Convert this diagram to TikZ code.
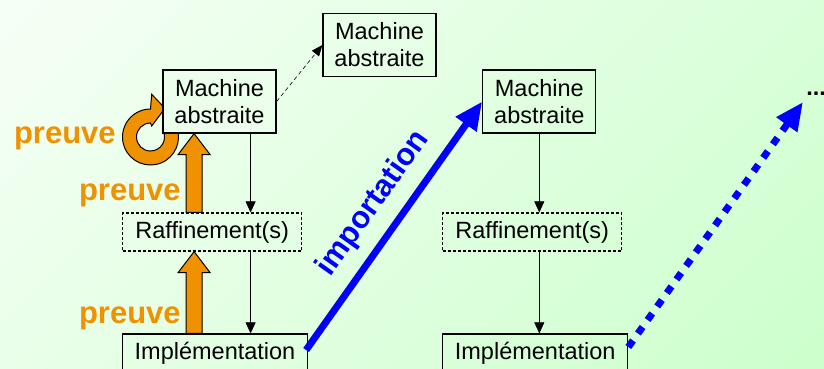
\documentclass[tikz,border=0pt]{standalone}
\usepackage{fontspec}
\setmainfont{Liberation Sans}
\usetikzlibrary{positioning}
\usetikzlibrary{calc}
\usetikzlibrary{arrows.meta}
\usetikzlibrary{shadings}

\definecolor{preuveorange}{RGB}{240,145,0}
\definecolor{fondHG}{RGB}{246,255,246}
\definecolor{fondHD}{RGB}{217,255,217}
\definecolor{fondBG}{RGB}{233,255,233}
\definecolor{fondBD}{RGB}{204,255,204}
\definecolor{fondboite}{RGB}{236,255,236}

% fleche epaisse "preuve", de #1 (queue) vers #2 (pointe)
\newcommand{\preuvearrow}[2]{%
  \draw[preuve] let \p1=(#1), \p2=(#2) in
    (\x1-8pt,\y1) -- (\x1-8pt,\y2-21pt) -- (\x1-16pt,\y2-21pt) -- (\x1,\y2)
    -- (\x1+16pt,\y2-21pt) -- (\x1+8pt,\y2-21pt) -- (\x1+8pt,\y1) -- cycle;}

\begin{document}
\begin{tikzpicture}[x=1pt,y=1pt,>={Triangle[length=11pt,width=10pt]},semithick]
	\tikzstyle{machine}=[draw,line width=1.2pt,align=center,inner sep=0pt,
		minimum width=113pt,minimum height=63pt,font=\fontsize{23.5}{27}\selectfont]
	\tikzstyle{raffinement}=[draw,line width=1.2pt,dash pattern=on 3pt off 2pt,inner sep=0pt,
		minimum width=179pt,minimum height=38pt,font=\fontsize{23.5}{27}\selectfont]
	\tikzstyle{impl}=[draw,line width=1.2pt,inner sep=0pt,
		minimum width=185pt,minimum height=38pt,font=\fontsize{23.5}{27}\selectfont]
	\tikzstyle{preuve}=[draw=black,line width=1pt,fill=preuveorange,line join=miter]
	\tikzstyle{preuvelabel}=[inner sep=0pt,text=preuveorange,font=\fontsize{31}{36}\bfseries]
	\tikzstyle{importarrow}=[draw=blue,line width=7pt,-{Triangle[length=28pt,width=24pt]}]
	\tikzstyle{suitearrow}=[importarrow,dash pattern=on 8pt off 8.6pt]

	\useasboundingbox (0,0) rectangle (824,368);
	\clip (0,0) rectangle (824,368);
	\shade[upper left=fondHG,upper right=fondHD,lower left=fondBG,lower right=fondBD]
		(0,0) rectangle (824,368);

	% preuve sur la machine elle-meme
	\coordinate (cyc) at (150.5,231);
	\draw[preuve] ($(cyc)+(22:28)$) arc[start angle=22,end angle=-270,radius=28]
		-- ++(1.2,14.7) -- (165,259.7) -- (151.7,242) -- ($(cyc)+(90:14)$)
		arc[start angle=90,end angle=382,radius=14] -- cycle;

	\node[machine,fill=fondboite] (A1) at (219.5,266.5) {Machine\\abstraite};
	\node[machine]                (A0) at (379.5,323)   {Machine\\abstraite};
	\node[machine]                (B1) at (539.3,266.5) {Machine\\abstraite};
	\node[raffinement] (refL)  at (212.2,136) {Raffinement(s)};
	\node[raffinement] (refM)  at (532.2,136) {Raffinement(s)};
	\node[impl]        (implL) at (215,15)    {Implémentation};
	\node[impl]        (implM) at (535.2,15)  {Implémentation};
	\node[anchor=base west,inner sep=0pt,font=\fontsize{23.5}{27}\bfseries] (dots) at (806,273) {...};
	\coordinate (suite) at ($(dots.base west)+(-3,-7)$);

	\coordinate (lx)  at ($(A1.south east)+(-26,0)$);
	\coordinate (pvx) at ($(A1.south west)+(31.7,0)$);

	\path[->] (A1.south -| lx) edge (refL.north -| lx)
		(refL.south -| lx) edge (implL.north -| lx)
		(B1.south) edge (refM.north -| B1.south)
		(refM.south -| B1.south) edge (implM.north -| B1.south);
	\path[->,dash pattern=on 4pt off 3pt,>={Triangle[length=11pt,width=9pt]}] (A1.east) edge (A0.west);

	\preuvearrow{implL.north -| pvx}{refL.south -| pvx}
	\preuvearrow{refL.north -| pvx}{A1.south -| pvx}
	\node[preuvelabel,anchor=base east] (p1) at (116,225) {preuve};
	\node[preuvelabel,anchor=base east] (p2) at (181,168) {preuve};
	\node[preuvelabel,anchor=base east] (p3) at (181,45)  {preuve};

	\draw[importarrow] ($(implL.east)+(-2,3)$) -- node[pos=0.52,sloped,above=11.5pt,inner sep=0pt,
		text=blue,font=\fontsize{31}{36}\bfseries] {importation} (B1.west);
	\draw[suitearrow] ($(implM.east)+(0,6)$) -- (suite);
\end{tikzpicture}
\end{document}
